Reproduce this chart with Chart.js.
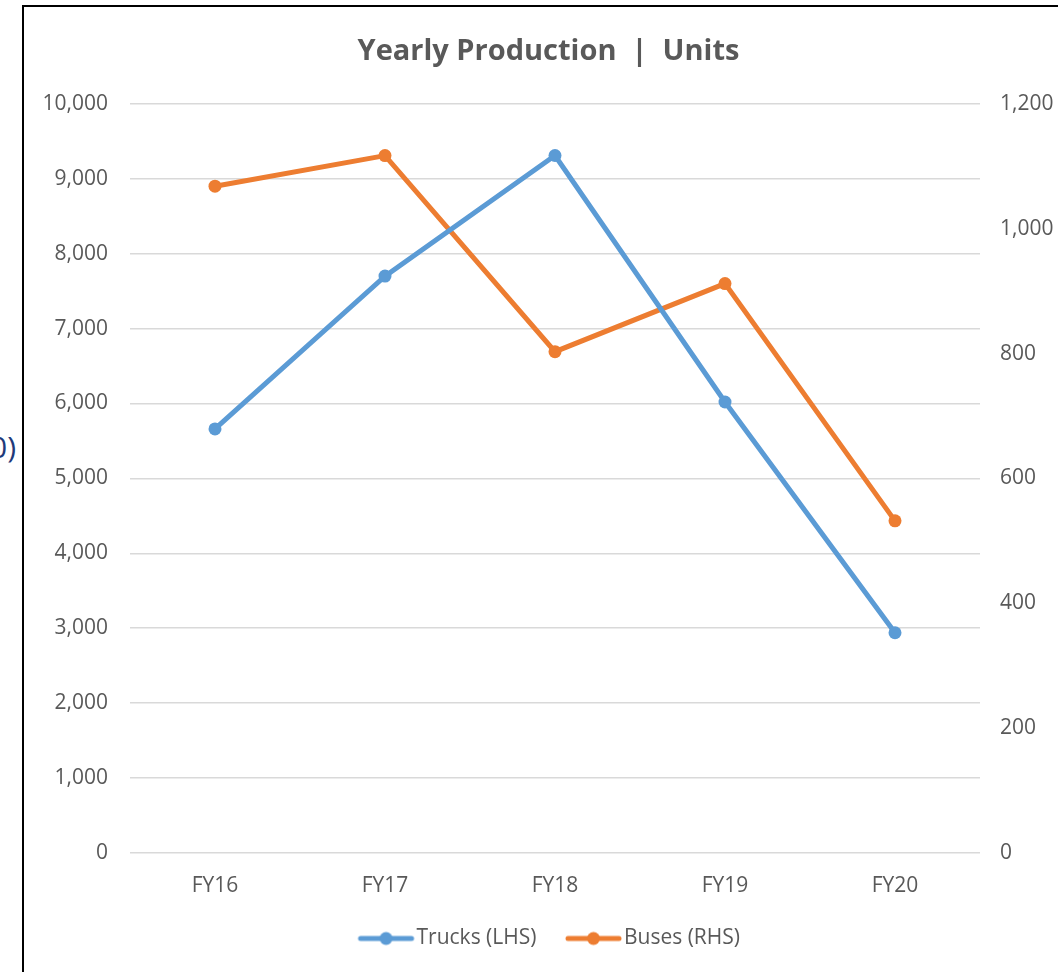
<!DOCTYPE html>
<html>
<head>
<meta charset="utf-8">
<script src="https://cdn.jsdelivr.net/npm/chart.js@4.4.0/dist/chart.umd.min.js"></script>
<style>
  html, body { margin: 0; padding: 0; background: #fff; overflow: hidden; }
  #frame {
    position: absolute; left: 22px; top: 5px; width: 1100px; height: 1000px;
    border-left: 2px solid #000; border-top: 2px solid #000; pointer-events: none;
  }
  #side {
    position: absolute; right: 1042px; top: 426px; white-space: nowrap;
    font-family: "Open Sans", sans-serif; font-size: 30px; color: #1f3a7a;
  }
  #chart { position: absolute; left: 0; top: 0; }
</style>
</head>
<body>
<div id="side">0)</div>
<canvas id="chart" width="1058" height="972"></canvas>
<div id="frame"></div>
<script>
// Chart data
const categories = ['FY16', 'FY17', 'FY18', 'FY19', 'FY20'];
const trucks = [5660, 7700, 9310, 6020, 2940];   // left axis
const buses = [1068, 1117, 803, 912, 532];        // right axis
const leftTicks = { min: 0, max: 10000, step: 1000 };
const rightTicks = { min: 0, max: 1200, step: 200 };

const blue = '#5B9BD5';
const orange = '#ED7D31';
const textGray = '#595959';
const gridGray = '#D9D9D9';
const smallFont = { family: 'Open Sans', size: 21 };

// line-with-dot legend marker; drawn off-centre so it sits close to its text
function legendMarker(color) {
    const c = document.createElement('canvas');
    c.width = 70;
    c.height = 16;
    const g = c.getContext('2d');
    g.strokeStyle = color;
    g.lineWidth = 5;
    g.lineCap = 'round';
    g.beginPath();
    g.moveTo(14, 8);
    g.lineTo(65, 8);
    g.stroke();
    g.fillStyle = color;
    g.beginPath();
    g.arc(39.5, 8, 6.5, 0, Math.PI * 2);
    g.fill();
    return c;
}

const fmt = v => Number(v).toLocaleString('en-US');

const ctx = document.getElementById('chart').getContext('2d');
new Chart(ctx, {
    type: 'line',
    data: {
        labels: categories,
        datasets: [{
            label: 'Trucks (LHS)',
            data: trucks,
            yAxisID: 'y',
            borderColor: blue,
            backgroundColor: blue,
            borderWidth: 5,
            pointRadius: 6.5,
            pointBorderWidth: 0
        }, {
            label: 'Buses (RHS)',
            data: buses,
            yAxisID: 'y1',
            borderColor: orange,
            backgroundColor: orange,
            borderWidth: 5,
            pointRadius: 6.5,
            pointBorderWidth: 0
        }]
    },
    options: {
        responsive: false,
        animation: false,
        layout: { padding: { left: 39, right: 0, top: 6, bottom: 13 } },
        plugins: {
            title: {
                display: true,
                text: 'Yearly Production  |  Units',
                color: textGray,
                font: { family: 'Open Sans', size: 29, weight: 'bold' },
                padding: { top: 28, bottom: 35 }
            },
            legend: {
                position: 'bottom',
                labels: {
                    color: textGray,
                    font: smallFont,
                    usePointStyle: true,
                    pointStyleWidth: 49,
                    padding: 28,
                    generateLabels: chart => chart.data.datasets.map((ds, i) => ({
                        text: ds.label,
                        fontColor: textGray,
                        pointStyle: legendMarker(ds.borderColor),
                        lineWidth: 0,
                        strokeStyle: 'transparent',
                        fillStyle: 'transparent',
                        datasetIndex: i
                    }))
                }
            },
            tooltip: { enabled: false }
        },
        scales: {
            x: {
                offset: true,
                grid: { display: false },
                border: { display: false },
                ticks: { color: textGray, font: smallFont, padding: 12 },
                afterFit: scale => { scale.height = 47; }
            },
            y: {
                position: 'left',
                min: leftTicks.min,
                max: leftTicks.max,
                grid: { color: gridGray, lineWidth: 1.5, drawTicks: false },
                border: { display: false },
                ticks: {
                    stepSize: leftTicks.step,
                    color: textGray,
                    font: smallFont,
                    padding: 22,
                    callback: fmt
                },
                afterFit: scale => { scale.width = 91; }
            },
            y1: {
                position: 'right',
                min: rightTicks.min,
                max: rightTicks.max,
                grid: { display: false, drawTicks: false },
                border: { display: false },
                ticks: {
                    stepSize: rightTicks.step,
                    color: textGray,
                    font: smallFont,
                    padding: 20,
                    callback: fmt
                },
                afterFit: scale => { scale.width = 78; }
            }
        }
    }
});
</script>
</body>
</html>
